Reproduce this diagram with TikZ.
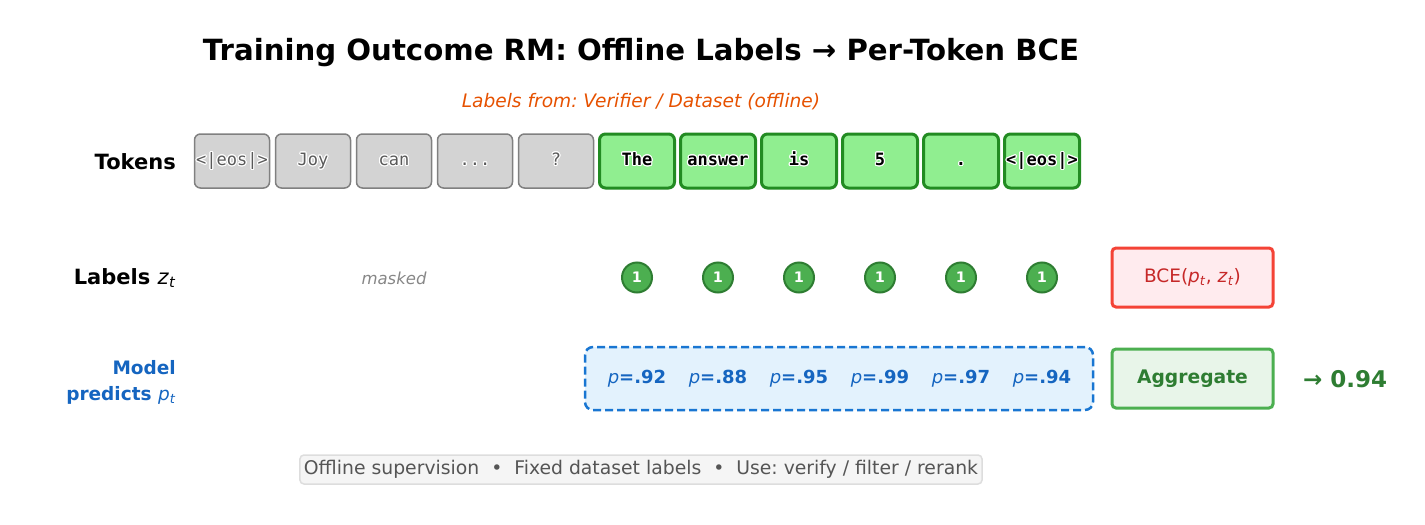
\documentclass[tikz,border=0pt]{standalone}
\usepackage{fontspec}
\usepackage{amsmath}
\usepackage{tikz}
\usepackage{contour}
\setmainfont{DejaVu Sans}
\setmonofont{DejaVu Sans Mono}
\newfontfamily\arrowfont{DejaVu Sans}
\newcommand\tokdots{...}
\newcommand\mvar[2]{\textit{#1}\textsubscript{\textit{#2}}}
\contourlength{1.1pt}
\contournumber{16}
\frenchspacing

\definecolor{tokgray}{HTML}{D3D3D3}
\definecolor{tokgrayline}{HTML}{808080}
\definecolor{tokgreen}{HTML}{90EE90}
\definecolor{tokgreenline}{HTML}{228B22}
\definecolor{dotgreen}{HTML}{4CAF50}
\definecolor{darkgreen}{HTML}{2E7D32}
\definecolor{predfill}{HTML}{E3F2FD}
\definecolor{predline}{HTML}{1976D2}
\definecolor{predtext}{HTML}{1565C0}
\definecolor{bcefill}{HTML}{FFEBEE}
\definecolor{bceline}{HTML}{F44336}
\definecolor{bcetext}{HTML}{C62828}
\definecolor{aggfill}{HTML}{E8F5E9}
\definecolor{subtext}{HTML}{E65100}
\definecolor{notefill}{HTML}{F5F5F5}
\definecolor{noteline}{HTML}{DDDDDD}
\definecolor{notetext}{HTML}{555555}

\tikzset{
  masktok/.style={draw=tokgrayline, fill=tokgray, line width=1.5pt, rounded corners=6pt,
    minimum width=75pt, minimum height=54pt, inner sep=0pt, text height=12pt, text depth=3pt,
    font=\ttfamily\fontsize{17}{17}\selectfont, text=black!65},
  anstok/.style={draw=tokgreenline, fill=tokgreen, line width=3pt, rounded corners=6pt,
    minimum width=75pt, minimum height=54pt, inner sep=0pt, text height=12pt, text depth=3pt,
    font=\ttfamily\bfseries\fontsize{17}{17}\selectfont},
  rowlabel/.style={anchor=east, align=right, inner sep=0pt, font=\bfseries\fontsize{21}{26}\selectfont},
  onedot/.style={circle, draw=darkgreen, fill=dotgreen, line width=2pt, minimum size=30pt,
    inner sep=0pt, text=white, font=\bfseries\fontsize{14.5}{14.5}\selectfont},
  lossbox/.style={rounded corners=4pt, line width=3pt, minimum width=161pt,
    minimum height=59pt, inner sep=0pt, font=\fontsize{18.5}{18.5}\selectfont}
}

\begin{document}
\begin{tikzpicture}[x=1pt, y=-1pt]
\useasboundingbox (0,0) rectangle (1425,525);

% title
\node (title) at (641,53) {\bfseries\fontsize{29.2}{29.2}\selectfont Training Outcome RM: Offline Labels \arrowfont→ Per-Token BCE};
\node[text=subtext] (source) at (641,101.5) {\itshape\fontsize{18.6}{18.6}\selectfont Labels from: Verifier / Dataset (offline)};

% tokens
\node[rowlabel] (toklabel) at (176,162) {Tokens};
\foreach \t [count=\i] in {<|eos|>, Joy, can, \tokdots, ?}
  \node[masktok] (tok\i) at (151+81*\i,161) {\contour{white}{\t}};
\foreach \t [count=\i from 6] in {The, answer, is, 5, ., <|eos|>}
  \node[anstok] (tok\i) at (151+81*\i,161) {\contour{white}{\t}};

% labels
\node[rowlabel] (lablabel) at (176,278) {Labels \textmd{\mvar{z}{t}}};
\node[text=black!47] (masked) at (tok3 |- 0,278) {\itshape\fontsize{16.5}{16.5}\selectfont masked};
\foreach \i in {6,...,11}
  \node[onedot] (z\i) at (tok\i |- 0,277.5) {1};
\node[lossbox, draw=bceline, fill=bcefill, text=bcetext] (bce) at (1192.5,277.5) {BCE(\mvar{p}{t}, \mvar{z}{t})};

% predictions
\node[rowlabel, text=predtext, font=\bfseries\fontsize{18.5}{26}\selectfont] (predlabel) at (176,382) {Model\\predicts \textmd{\mvar{p}{t}}};
\node[draw=predline, fill=predfill, dash pattern=on 8pt off 4pt, line width=2.5pt, rounded corners=8pt,
  minimum width=508pt, minimum height=63pt] (predbox) at (839,378.5) {};
\foreach \p [count=\i from 6] in {.92, .88, .95, .99, .97, .94}
  \node[text=predtext, font=\bfseries\fontsize{18}{18}\selectfont] (p\i) at (tok\i |- 0,379) {\textmd{\textit{p}}=\p};
\node[lossbox, draw=dotgreen, fill=aggfill, text=darkgreen, font=\bfseries\fontsize{18.7}{18.7}\selectfont] (agg) at (1192.5,378.5) {Aggregate};
\node[text=darkgreen, font=\bfseries\fontsize{23}{23}\selectfont] (score) at (1345,379) {→ 0.94};

% footer
\node[draw=noteline, fill=notefill, line width=1.5pt, rounded corners=4pt, text=notetext,
  inner xsep=4pt, minimum height=29pt, text height=14pt, text depth=4pt,
  font=\fontsize{18.8}{18.8}\selectfont] (note) at (641,469.5)
  {Offline supervision \ • \ Fixed dataset labels \ • \ Use: verify / filter / rerank};
\end{tikzpicture}
\end{document}
